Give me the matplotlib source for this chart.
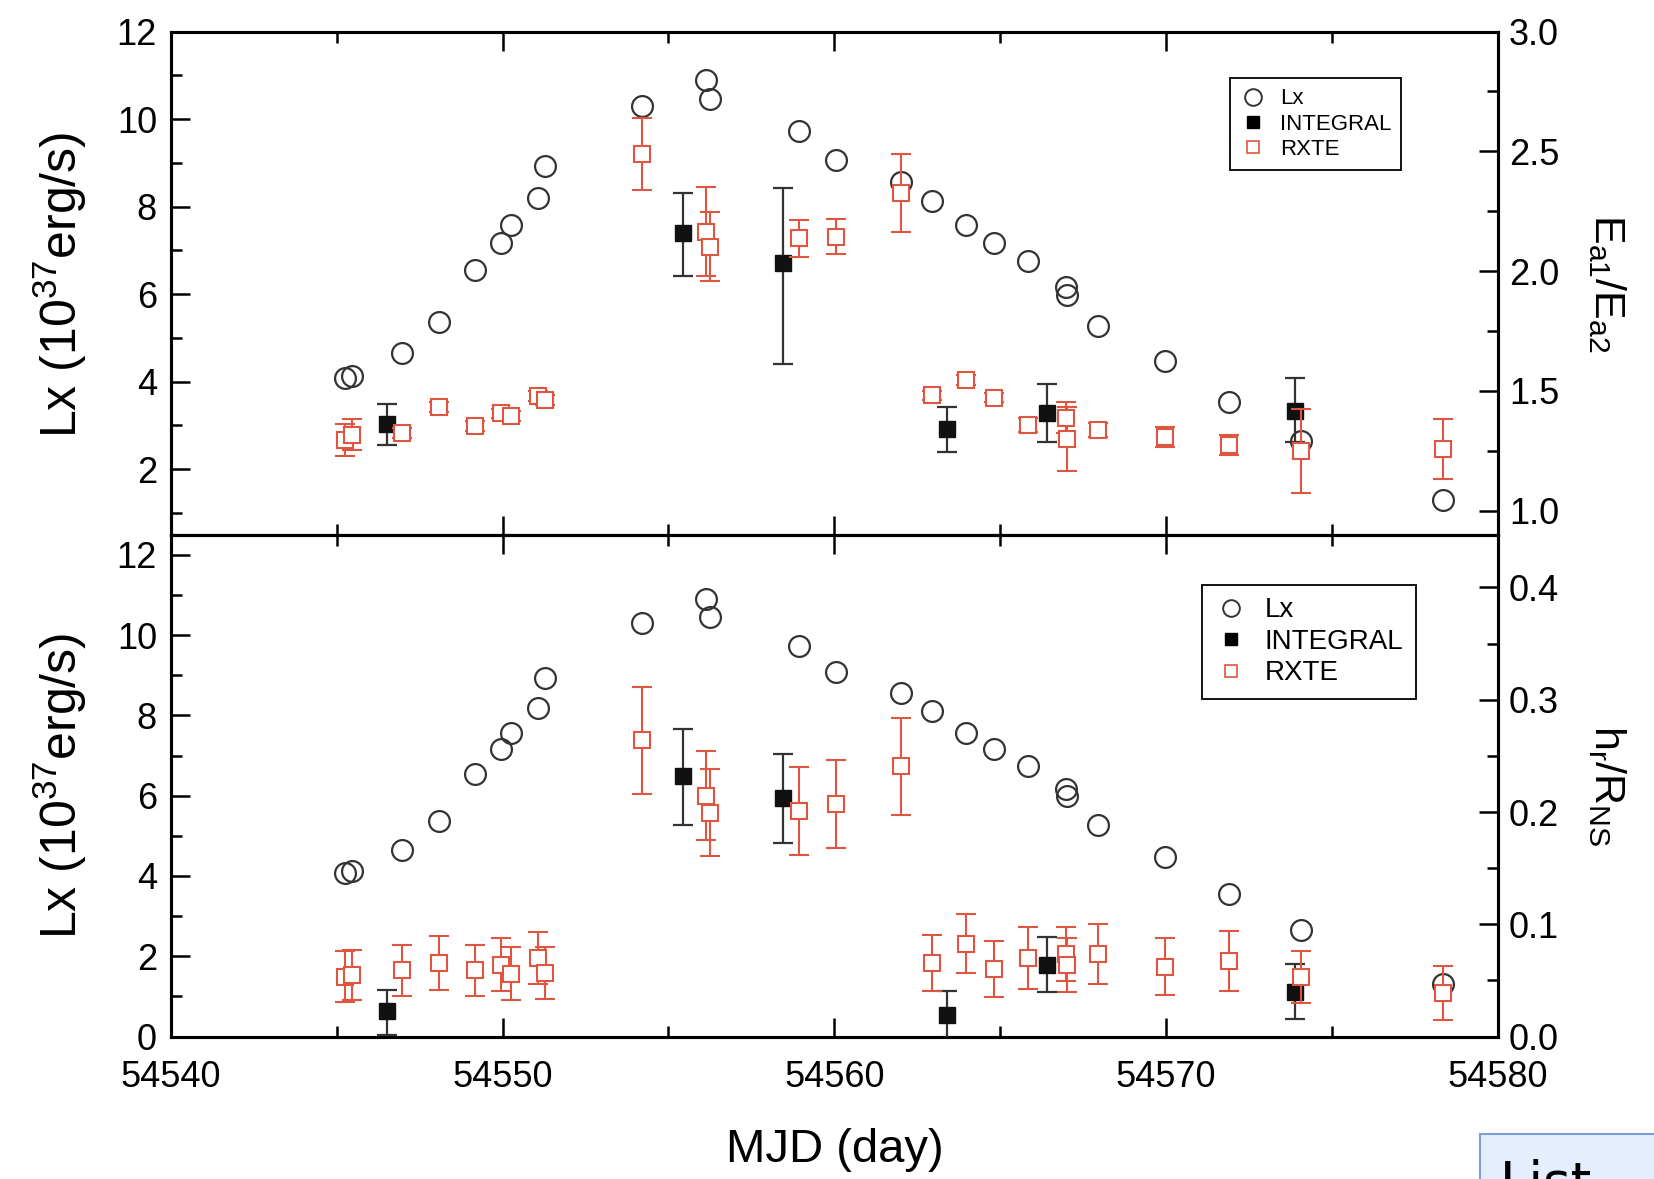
import matplotlib.pyplot as plt
from matplotlib.lines import Line2D
from matplotlib.patches import Rectangle
from matplotlib.ticker import MultipleLocator

plt.rcParams['font.family'] = ['Liberation Sans', 'DejaVu Sans']
plt.rcParams['mathtext.default'] = 'regular'

# RXTE pointings (Lx comes from the same pointings)
mjd = [54545.25, 54545.46, 54546.98, 54548.07, 54549.18, 54549.96, 54550.24,
       54551.06, 54551.27, 54554.21, 54556.14, 54556.25, 54558.93, 54560.04,
       54562.00, 54562.93, 54563.98, 54564.80, 54565.85, 54566.98, 54567.00,
       54567.95, 54569.97, 54571.90, 54574.06, 54578.34]
lx = [4.08, 4.13, 4.65, 5.36, 6.55, 7.16, 7.57, 8.19, 8.92, 10.31, 10.90, 10.45,
      9.72, 9.07, 8.56, 8.12, 7.57, 7.16, 6.75, 6.17, 5.98, 5.28, 4.48, 3.54,
      2.65, 1.30]
ratio_rxte = [1.295, 1.317, 1.325, 1.433, 1.353, 1.406, 1.395, 1.478, 1.462,
              2.489, 2.165, 2.102, 2.137, 2.144, 2.325, 1.481, 1.545, 1.472,
              1.359, 1.389, 1.300, 1.337, 1.308, 1.274, 1.249, 1.257]
ratio_rxte_err = [0.065, 0.065, 0.02, 0.02, 0.02, 0.02, 0.02, 0.02, 0.02,
                  0.15, 0.185, 0.145, 0.077, 0.072, 0.163, 0.02, 0.02, 0.02,
                  0.03, 0.065, 0.135, 0.03, 0.04, 0.04, 0.175, 0.125]
hr_rxte = [0.0535, 0.055, 0.059, 0.0655, 0.059, 0.0639, 0.056, 0.070, 0.0566,
           0.2637, 0.2144, 0.1995, 0.201, 0.2073, 0.2406, 0.0655, 0.0827,
           0.0604, 0.0697, 0.0734, 0.064, 0.0734, 0.0624, 0.0671, 0.053, 0.039]
hr_rxte_err = [0.0225, 0.0225, 0.023, 0.024, 0.0225, 0.0235, 0.0235, 0.0235,
               0.0235, 0.048, 0.0395, 0.039, 0.0395, 0.039, 0.0435, 0.025,
               0.0265, 0.025, 0.0275, 0.024, 0.024, 0.0265, 0.0255, 0.0265,
               0.023, 0.024]

# INTEGRAL
mjd_int = [54546.52, 54555.43, 54558.44, 54563.39, 54566.40, 54573.90]
ratio_int = [1.361, 2.158, 2.035, 1.341, 1.407, 1.418]
ratio_int_lo = [0.088, 0.179, 0.423, 0.095, 0.121, 0.132]
ratio_int_hi = [0.084, 0.167, 0.311, 0.091, 0.121, 0.137]
hr_int = [0.0224, 0.2322, 0.2123, 0.0188, 0.0635, 0.0396]
hr_int_lo = [0.0207, 0.0436, 0.040, 0.021, 0.024, 0.024]
hr_int_hi = [0.0187, 0.0416, 0.0395, 0.022, 0.025, 0.025]

red = '#e0553f'
fig = plt.figure(figsize=(16.54, 11.79), dpi=100)
ax1 = fig.add_axes([0.1033, 0.5465, 0.8023, 0.4267])
ax2 = fig.add_axes([0.1033, 0.1208, 0.8023, 0.4257])

panels = [(ax1, ratio_rxte, ratio_rxte_err, ratio_int, ratio_int_lo, ratio_int_hi, 16, (0.798, 0.907)),
          (ax2, hr_rxte, hr_rxte_err, hr_int, hr_int_lo, hr_int_hi, 20, (0.777, 0.90))]
twins = []
for ax, rv, re_, iv, ilo, ihi, lfs, anchor in panels:
    ax.plot(mjd, lx, 'o', ms=15, mfc='none', mec='#333333', mew=1.6)
    tw = ax.twinx()
    twins.append(tw)
    tw.errorbar(mjd_int, iv, yerr=[ilo, ihi], fmt='s', ms=11, color='#111111',
                ecolor='#333333', elinewidth=1.6, capsize=7, capthick=1.6, zorder=3)
    tw.errorbar(mjd, rv, yerr=re_, fmt='s', ms=11, mfc='white', mec=red, mew=1.5,
                ecolor=red, elinewidth=1.5, capsize=7, capthick=1.5, zorder=4)
    handles = [Line2D([], [], ls='none', marker='o', ms=12, mfc='none', mec='#333333', mew=1.4),
               Line2D([], [], ls='none', marker='s', ms=8, color='black'),
               Line2D([], [], ls='none', marker='s', ms=9, mfc='white', mec=red, mew=1.2)]
    ax.set_xlim(54540, 54580)
    ax.xaxis.set_major_locator(MultipleLocator(10))
    ax.xaxis.set_minor_locator(MultipleLocator(5))
    ax.ticklabel_format(axis='x', useOffset=False)
    ax.yaxis.set_major_locator(MultipleLocator(2))
    ax.yaxis.set_minor_locator(MultipleLocator(1))
    for a in (ax, tw):
        a.tick_params(which='both', direction='in', width=1.8, labelsize=26)
        a.tick_params(which='major', length=14)
        a.tick_params(which='minor', length=8)
        for s in a.spines.values():
            s.set_linewidth(2.2)
    ax.tick_params(which='both', top=True, right=False, pad=10)
    ax.tick_params(axis='x', pad=17)
    tw.tick_params(which='both', pad=8)
    leg = tw.legend(handles, ['Lx', 'INTEGRAL', 'RXTE'], fontsize=lfs, frameon=True,
                    fancybox=False, edgecolor='black', framealpha=1, handletextpad=0.6,
                    borderpad=0.45, labelspacing=0.2, handlelength=1.2,
                    loc='upper left', bbox_to_anchor=anchor, borderaxespad=0)
    leg.get_frame().set_linewidth(1.3)

ax1.set_ylim(0.5, 12)
ax1.tick_params(labelbottom=False)
twins[0].set_ylim(0.9, 3.0)
twins[0].yaxis.set_major_locator(MultipleLocator(0.5))
twins[0].yaxis.set_minor_locator(MultipleLocator(0.25))
twins[0].yaxis.set_major_formatter('{x:.1f}')
ax2.set_ylim(0, 12.5)
twins[1].set_ylim(0, 0.447)
twins[1].yaxis.set_major_locator(MultipleLocator(0.1))
twins[1].yaxis.set_minor_locator(MultipleLocator(0.05))
twins[1].yaxis.set_major_formatter('{x:.1f}')

lab = r'Lx (10$^{37}$erg/s)'
fig.text(0.0364, 0.7585, lab, rotation=90, ha='center', va='center', fontsize=36)
fig.text(0.0364, 0.3336, lab, rotation=90, ha='center', va='center', fontsize=36)
fig.text(0.9714, 0.760, r'E$_{a1}$/E$_{a2}$', rotation=270, ha='center', va='center', fontsize=31)
fig.text(0.9714, 0.3336, r'h$_{r}$/R$_{NS}$', rotation=270, ha='center', va='center', fontsize=31)
fig.text(0.5045, 0.025, 'MJD (day)', ha='center', va='center', fontsize=34)

# cropped "List" button in the lower right corner of the screenshot
fig.patches.append(Rectangle((0.8948, -0.01), 0.2, 0.0485, transform=fig.transFigure,
                             facecolor='#e4eeff', edgecolor='#7c9fd8', linewidth=1.5))
fig.text(0.907, 0.017, 'List', ha='left', va='top', fontsize=38, family='DejaVu Sans')

fig.savefig('out.png', dpi=100)
